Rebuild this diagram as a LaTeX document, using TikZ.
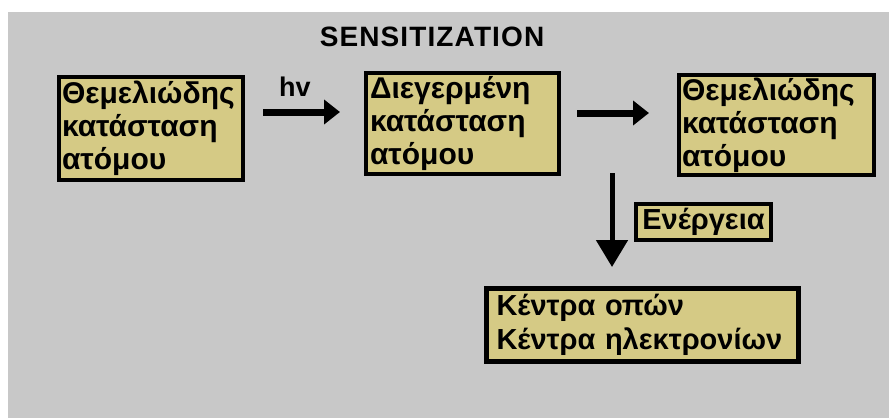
\documentclass[tikz,border=0pt]{standalone}
\usepackage{fontspec}
\setmainfont{Liberation Sans}
\usetikzlibrary{arrows.meta}
\definecolor{bggray}{RGB}{200,200,200}
\definecolor{boxfill}{RGB}{213,202,133}
\begin{document}
\begin{tikzpicture}[x=1pt, y=-1pt,
	box/.style={draw, line width=4pt, fill=boxfill, align=left, inner sep=3pt,
		font=\bfseries\fontsize{30}{33}\selectfont},
	arr/.style={line width=7pt, -{Triangle[length=16pt,width=24pt]}}]
		\useasboundingbox (0,0) rectangle (889,418);
		\fill[bggray] (8,12) rectangle (889,418);
		
		\node[font=\bfseries\fontsize{28}{30}\selectfont\addfontfeature{LetterSpace=4}] (title) at (432,37) {SENSITIZATION};
		\node[box, minimum width=184pt, minimum height=103pt, text width=178pt] (b1) at (151,128.5) {Θεμελιώδης\\κατάσταση\\ατόμου};
		\node[box, minimum width=193pt, minimum height=93pt, text width=185pt] (b2) at (462.5,123.5) {Διεγερμένη\\κατάσταση\\ατόμου};
		\node[box, minimum width=193pt, minimum height=100pt, text width=189pt] (b3) at (776.5,125) {Θεμελιώδης\\κατάσταση\\ατόμου};
		\node[box, font=\bfseries\fontsize{29}{33}\selectfont, minimum width=135pt, minimum height=36pt, inner sep=1pt] (en) at (703.5,222) {Ενέργεια};
		\node[box, line width=5pt, font=\bfseries\fontsize{29}{34}\selectfont, minimum width=312pt, minimum height=73pt, text width=292pt] (bot) at (642.5,325) {Κέντρα οπών\\Κέντρα ηλεκτρονίων};
		\node[font=\bfseries\fontsize{27}{30}\selectfont] (hv) at (295,87) {hv};
		
		\draw[arr, shorten <=18pt, shorten >=24pt] (b1.east |- 0,112) -- (b2.west |- 0,112);
		\draw[arr, shorten <=16pt, shorten >=28pt] (b2.east |- 0,113) -- (b3.west |- 0,113);
		\coordinate (v1) at (612,173);
		\draw[line width=5pt, -{Triangle[length=27pt,width=31pt]}, shorten >=19pt] (v1) -- (bot.north -| v1);
	\end{tikzpicture}
\end{document}
